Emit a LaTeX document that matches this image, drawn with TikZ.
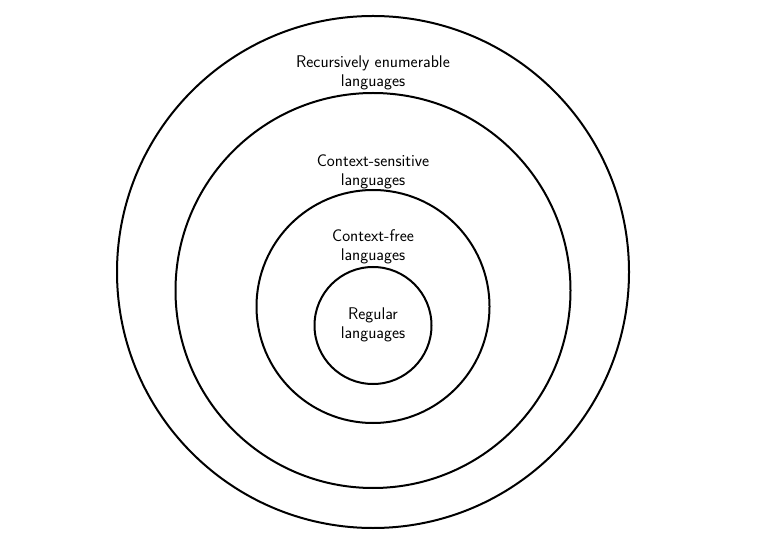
\documentclass[tikz,border=0pt]{standalone}
\begin{document}
\begin{tikzpicture}[x=1pt,y=-1pt,
  ring/.style={draw=black,line width=2pt},
  lbl/.style={align=center,font=\fontsize{16.9}{19}\selectfont\sffamily,inner sep=0pt}]
\useasboundingbox (0,0) rectangle (760,534);
\draw[ring] (373,272) circle (256);
\draw[ring] (373,290.5) circle (197.5);
\draw[ring] (373,306.5) circle (116.5);
\draw[ring] (373,325.5) circle (58.5);
\node[lbl] (re) at (373,73) {Recursively enumerable\\languages};
\node[lbl] (cs) at (373,172) {Context-sensitive\\languages};
\node[lbl] (cf) at (373,247) {Context-free\\languages};
\node[lbl] (reg) at (373,325) {Regular\\languages};
\end{tikzpicture}
\end{document}
